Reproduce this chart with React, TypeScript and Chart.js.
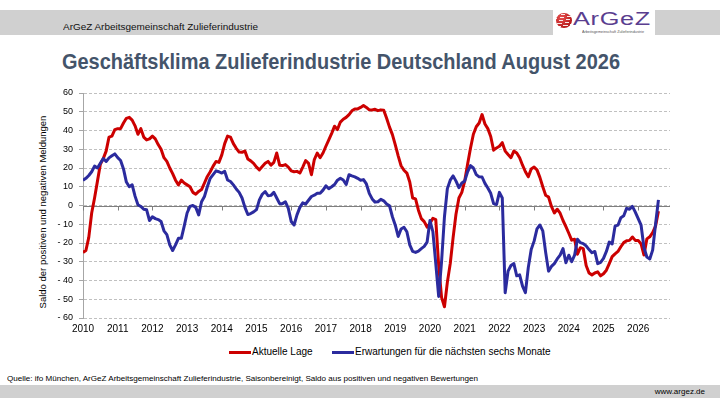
import { useEffect, useLayoutEffect, useRef } from "react";
import { Chart, registerables } from "chart.js";

Chart.register(...registerables);

const FONT = "'Liberation Sans', Arial, Helvetica, sans-serif";
const RED = "#CC0000";
const BLUE = "#2B2B9E";

// x axis: months counted from Jan 2010, one label per year
const yearLabels = [
  "2010", "2011", "2012", "2013", "2014", "2015", "2016", "2017", "2018",
  "2019", "2020", "2021", "2022", "2023", "2024", "2025", "2026",
];
const yTicks = [-60, -50, -40, -30, -20, -10, 0, 10, 20, 30, 40, 50, 60];
const seriesNames = ["Aktuelle Lage", "Erwartungen für die nächsten sechs Monate"];

// monthly values Jan 2010 .. Aug 2026
const aktuelleLage = [
  -25, -24, -17, -4, 4, 13, 22, 25, 29, 36.5, 37, 40.5,
  41, 41, 44, 46.5, 47, 45.5, 42.5, 38, 41, 36.5, 35, 35.5,
  37, 35.5, 32.5, 30, 25.5, 23.5, 20, 17, 13.5, 11, 13.5, 12,
  11, 10, 7, 6, 7.5, 8.5, 12, 15.5, 18, 21, 23.5, 23,
  27, 33, 37, 36.5, 33, 30.5, 28.5, 28.4, 29, 24.8, 23.8, 22.5,
  20.5, 19, 20.8, 22.5, 23.5, 21.5, 23, 28, 21.5, 21.3, 21.8, 20.5,
  18.5, 18, 18.2, 17.3, 20.5, 24, 22.5, 16.4, 24.5, 28, 25.5, 28,
  31.6, 35, 38.5, 42.3, 40.5, 44.5, 46, 47, 48.5, 50.5, 51.5, 51.5,
  52.3, 53.3, 52.3, 51, 50.9, 51.3, 50.6, 51, 50.8, 46.5, 41.8, 37.8,
  32.3, 26.5, 21.2, 18.8, 17.3, 12.5, 4, 3.5, -2.5, -7, -8.6, -11.5,
  -9.5, -6.8, -7.5, -32, -49, -54, -41, -31, -17, -4.5, 4, 7,
  13, 22, 30.5, 38, 42, 44, 48.5, 43.5, 41, 36.8, 29.5, 30.7,
  31.6, 33.5, 29, 27.2, 25.5, 29, 28, 25.5, 21.5, 18, 15.3, 19.5,
  20.5, 19, 15, 10, 5.5, 4.5, -0.5, -4, -2, -4.1, -8, -11.3,
  -14.8, -18.5, -18, -26, -22.5, -23, -32, -36, -37, -36, -35.4, -37.5,
  -36.4, -34.5, -31, -27.3, -25.8, -24.5, -22, -19.8, -18.8, -18.6, -16.8, -18.6,
  -18.6, -20.5, -26.4, -17.8, -16.7, -14.5, -11, -3,
];

const erwartungen = [
  13.4, 14.5, 16, 18, 21, 20, 22.5, 25, 23.5, 25.4, 26.5, 27.5,
  25.5, 24, 19.5, 12.5, 10, 11, 5, 0.4, -0.5, -2, -2.3, -8,
  -6, -7, -7.5, -8.5, -13.5, -15.5, -21, -24, -21, -17.5, -17.5, -11,
  -4, -0.5, 0, -1, -5, 2, 4.8, 10, 14.5, 16.5, 18.5, 18,
  17.3, 18.2, 13.6, 12.8, 11, 8.8, 7, 4, -1, -4.8, -4.3, -3.4,
  -2.2, 3, 6, 7.4, 5.2, 5.4, 7, 4, 1, 1, 2, -1.5,
  -8.5, -10.4, -5, -1, 1.4, 0.8, 2.8, 4.8, 5.5, 6.5, 6.5, 8.2,
  10.5, 9, 10, 11.2, 13.5, 14.5, 13.6, 11.2, 16.4, 15.8, 15.3, 14.5,
  13.5, 13.8, 11.5, 6.5, 3.5, 1.8, 2, 3.3, 2.5, 0.8, -0.2, -6,
  -10.5, -16.5, -12.5, -11.6, -14, -21, -24.5, -25, -24.3, -23, -21.8, -19.5,
  -8, -14, -31, -48.5, -30, -6, 9, 13.5, 15.8, 13, 9.5, 12,
  13, 18, 21.3, 20, 16.5, 15.3, 15.2, 11.8, 9.3, 6.5, 1, 0.5,
  7, 4, -46.5, -35, -32, -31, -37.5, -37, -43, -46.5, -33, -23.5,
  -19, -12.5, -10.4, -13.5, -25, -35, -32.5, -31, -28.5, -26.5, -23, -30.5,
  -26.5, -30, -26.5, -18, -19.8, -20.3, -21.5, -23.5, -25.2, -24.5, -31, -30.3,
  -28.2, -24.5, -19.5, -20.5, -11, -10.5, -6.5, -5.5, -1.5, -2, -0.5, -3.5,
  -7, -10.5, -22.5, -27.5, -28.5, -23.8, -10, 3,
];

// solid zero line with small year ticks on it
const zeroLinePlugin = {
  id: "zeroLine",
  beforeDatasetsDraw(chart: any) {
    const { ctx, chartArea, scales } = chart;
    const y0 = Math.round(scales.y.getPixelForValue(0)) + 0.5;
    ctx.save();
    ctx.strokeStyle = "#7F7F7F";
    ctx.lineWidth = 1;
    ctx.beginPath();
    ctx.moveTo(chartArea.left, y0);
    ctx.lineTo(chartArea.right, y0);
    yearLabels.forEach((_, i) => {
      const x = Math.round(scales.x.getPixelForValue(i * 12)) + 0.5;
      ctx.moveTo(x, y0);
      ctx.lineTo(x, y0 + 4);
    });
    ctx.stroke();
    ctx.restore();
  },
};

// text squeezed/stretched to a given width
function FitText({ width, style, children }: { width: number; style: any; children: any }) {
  const ref = useRef<HTMLDivElement>(null);
  useLayoutEffect(() => {
    const el = ref.current;
    if (!el) return;
    el.style.transform = "none";
    const w = el.getBoundingClientRect().width;
    if (w > 0) el.style.transform = `scaleX(${width / w})`;
  }, [width]);
  return (
    <div ref={ref} style={{ position: "absolute", whiteSpace: "nowrap", transformOrigin: "0 0", ...style }}>
      {children}
    </div>
  );
}

export default function App() {
  const canvasRef = useRef<HTMLCanvasElement>(null);

  useEffect(() => {
    if (!canvasRef.current) return;
    const chart = new Chart(canvasRef.current, {
      type: "line",
      data: {
        datasets: [
          {
            label: seriesNames[0],
            data: aktuelleLage.map((y, i) => ({ x: i, y })),
            borderColor: RED,
            backgroundColor: RED,
            borderWidth: 3,
            pointRadius: 0,
            tension: 0,
            borderJoinStyle: "round",
            order: 1,
          },
          {
            label: seriesNames[1],
            data: erwartungen.map((y, i) => ({ x: i, y })),
            borderColor: BLUE,
            backgroundColor: BLUE,
            borderWidth: 3,
            pointRadius: 0,
            tension: 0,
            borderJoinStyle: "round",
            order: 0,
          },
        ],
      },
      options: {
        animation: false,
        responsive: false,
        layout: { padding: { top: 13, right: 50, bottom: 0, left: 0 } },
        plugins: { legend: { display: false }, tooltip: { enabled: false } },
        scales: {
          x: {
            type: "linear",
            min: 0,
            max: 203,
            grid: { display: false, drawTicks: false },
            border: { display: false },
            afterBuildTicks: (scale: any) => {
              scale.ticks = yearLabels.map((_, i) => ({ value: i * 12 }));
            },
            afterFit: (scale: any) => {
              scale.height = 22;
            },
            ticks: {
              autoSkip: false,
              maxRotation: 0,
              padding: 5,
              color: "#000",
              font: { size: 10, family: FONT },
              callback: (_v: any, i: number) => yearLabels[i],
            },
          },
          y: {
            min: yTicks[0],
            max: yTicks[yTicks.length - 1],
            afterFit: (scale: any) => {
              scale.width = 83;
            },
            ticks: {
              stepSize: yTicks[1] - yTicks[0],
              autoSkip: false,
              padding: 6,
              color: "#000",
              font: { size: 9, family: FONT },
              callback: (v: any) => (v < 0 ? "- " + Math.abs(v) : String(v)),
            },
            grid: { color: "#C0C0C0", lineWidth: 1, tickLength: 4, tickColor: "#A6A6A6" },
            border: { color: "#A6A6A6", dash: [3, 2] },
          },
        },
      },
      plugins: [zeroLinePlugin],
    } as any);
    return () => chart.destroy();
  }, []);

  return (
    <div
      style={{
        position: "absolute",
        left: 0,
        top: 0,
        width: 720,
        height: 405,
        background: "#fff",
        fontFamily: FONT,
        overflow: "hidden",
      }}
    >
      {/* header band */}
      <div style={{ position: "absolute", left: 0, top: 10, width: 720, height: 25, background: "#D0D0D0" }} />
      <FitText width={195} style={{ left: 63, top: 21, fontSize: 9, lineHeight: "12px", color: "#111" }}>
        ArGeZ Arbeitsgemeinschaft Zulieferindustrie
      </FitText>
      <div style={{ position: "absolute", left: 553, top: 10, width: 102, height: 25, background: "#fff" }}>
        <div
          style={{
            position: "absolute",
            left: 3,
            top: 3,
            width: 16,
            height: 15,
            borderRadius: "50%",
            background:
              "repeating-linear-gradient(172deg, rgba(255,255,255,0) 0 2.2px, rgba(255,255,255,0.9) 2.2px 2.8px), radial-gradient(circle at 35% 30%, #E85050, #B81C1C 70%)",
          }}
        />
        <FitText width={78} style={{ left: 20, top: 0, fontSize: 18, lineHeight: "18px", color: "#5A3E8F", letterSpacing: 0.5 }}>
          ArGeZ
        </FitText>
        <FitText width={62} style={{ left: 29, top: 19, fontSize: 4, lineHeight: "5px", color: "#555" }}>
          Arbeitsgemeinschaft Zulieferindustrie
        </FitText>
      </div>

      {/* title */}
      <FitText width={558} style={{ left: 62, top: 51, fontSize: 22, lineHeight: "22px", fontWeight: "bold", color: "#44546A" }}>
        Geschäftsklima Zulieferindustrie Deutschland August 2026
      </FitText>

      {/* y axis title, one line rotated */}
      <div
        style={{
          position: "absolute",
          left: 43 - 110,
          top: 212 - 6,
          width: 220,
          height: 12,
          fontSize: 9.5,
          lineHeight: "12px",
          textAlign: "center",
          whiteSpace: "nowrap",
          color: "#000",
          transform: "rotate(-90deg)",
          transformOrigin: "50% 50%",
        }}
      >
        Saldo der positiven und negativen Meldungen
      </div>

      <canvas
        ref={canvasRef}
        width={720}
        height={260}
        style={{ position: "absolute", left: 0, top: 80, width: 720, height: 260 }}
      />

      {/* legend */}
      <div style={{ position: "absolute", left: 229, top: 351, width: 22, height: 3, background: RED }} />
      <div style={{ position: "absolute", left: 252, top: 346, fontSize: 10, lineHeight: "12px", whiteSpace: "nowrap" }}>
        {seriesNames[0]}
      </div>
      <div style={{ position: "absolute", left: 332, top: 351, width: 22, height: 3, background: BLUE }} />
      <div style={{ position: "absolute", left: 355, top: 346, fontSize: 10, lineHeight: "12px", whiteSpace: "nowrap" }}>
        {seriesNames[1]}
      </div>

      {/* footer */}
      <FitText width={471} style={{ left: 7, top: 374, fontSize: 7.5, lineHeight: "10px", color: "#000" }}>
        Quelle: ifo München, ArGeZ Arbeitsgemeinschaft Zulieferindustrie, Saisonbereinigt, Saldo aus positiven und negativen Bewertungen
      </FitText>
      <div style={{ position: "absolute", left: 0, top: 385, width: 720, height: 13, background: "#D0D0D0" }} />
      <div style={{ position: "absolute", right: 15, top: 386, fontSize: 8, lineHeight: "11px", color: "#000" }}>
        www.argez.de
      </div>
    </div>
  );
}
